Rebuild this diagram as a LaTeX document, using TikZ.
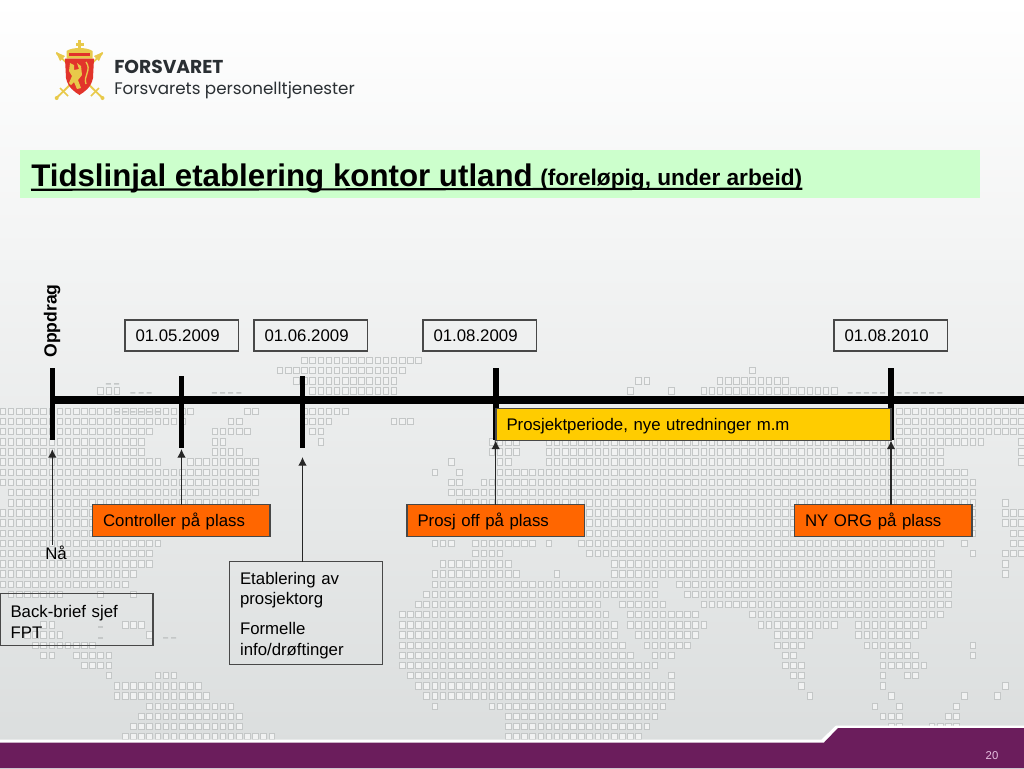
\documentclass[tikz,border=0pt]{standalone}
\usepackage{fontspec}
\setmainfont{Liberation Sans}
\newfontfamily\logofont{Poppins}
\usetikzlibrary{arrows.meta}
\definecolor{bgtop}{HTML}{FFFFFF}
\definecolor{bgbot}{HTML}{DADDDD}
\definecolor{titlegreen}{HTML}{CCFFCC}
\definecolor{orangebox}{HTML}{FF6600}
\definecolor{yellowbox}{HTML}{FFCC00}
\definecolor{purpleband}{HTML}{6B1D5C}
\definecolor{pagenum}{HTML}{E6BFE0}
\definecolor{dotline}{HTML}{C4C7C7}
\definecolor{dotfill}{HTML}{F1F2F2}
\definecolor{boxline}{HTML}{484848}
\definecolor{logodark}{HTML}{2A2F33}
\definecolor{gold}{HTML}{E8C94A}
\definecolor{shieldred}{HTML}{E2342B}
\tikzset{
  x=0.75pt,y=-0.75pt,
  mapdot/.style={draw=dotline,fill=dotfill,line width=0.5pt},
  mapdash/.style={fill=dotline},
  tickbar/.style={fill=black,inner sep=0pt,outer sep=0pt,minimum width=4.2pt,minimum height=54pt},
  basebox/.style={anchor=north west,inner xsep=7.9pt,inner ysep=0pt,outer sep=0pt,font=\fontsize{12.6}{15.5}\selectfont,align=left,line width=1pt},
  datebox/.style={basebox,draw=boxline,text width=69.3pt,minimum height=23.25pt,text height=11pt,text depth=2pt},
  orangenode/.style={basebox,draw=boxline,fill=orangebox,text width=117.3pt,minimum height=24pt,text height=11pt,text depth=2pt},
  notebox/.style={basebox,draw=boxline},
  arr/.style={-{Latex[length=6.5pt,width=6.5pt]},line width=1pt,draw=black!85},
}
\begin{document}
\begin{tikzpicture}
\useasboundingbox (0,0) rectangle (1024,768);
\shade[top color=bgtop,bottom color=bgbot] (0,0) rectangle (1024,768);
% dotted world map: row / from x / to x
\foreach \k/\a/\b in {
0/295/425,1/277/407,1/745/754,2/290/398,2/632/654,2/716/795,
3/93/120,3/305/398,3/622/630,3/667/677,3/699/839,
5/0/197,5/243/265,5/297/353,5/893/1024,
6/0/190,6/227/248,6/297/332,6/387/417,6/893/1024,
7/0/155,7/204/257,7/308/323,7/893/1024,
8/0/147,8/204/230,8/310/318,8/488/522,8/545/984,8/1012/1024,
9/0/147,9/204/248,9/488/519,9/545/949,9/1012/1024,
10/0/160,10/183/262,10/445/458,10/490/512,10/539/945,10/1012/1024,
11/0/265,11/428/442,11/453/467,11/490/970,
12/0/265,12/447/467,12/478/979,
13/7/265,13/448/982,
14/7/257,14/453/982,14/1002/1010,
15/0/257,15/453/982,15/1002/1024,
16/0/257,16/453/982,16/1002/1024,
17/0/257,17/453/979,17/1010/1024,
18/0/163,18/428/458,18/465/535,18/545/553,18/572/945,18/955/974,18/1010/1024,
19/0/155,19/465/508,19/580/940,19/968/975,19/1002/1024,
20/0/155,20/437/512,20/605/940,20/995/1003,
21/0/138,21/428/525,21/550/566,21/605/954,21/995/1001,
22/0/130,22/428/662,22/672/957,
23/7/70,23/90/98,23/125/131,23/420/662,23/682/957,
24/412/602,24/614/669,24/699/957,
25/397/612,25/622/704,25/744/949,
26/40/60,26/117/145,26/395/620,26/625/712,26/757/839,26/850/932,
27/20/63,27/142/152,27/395/620,27/632/704,27/767/819,27/852/924,
28/32/95,28/395/629,28/640/695,28/767/805,28/862/915,28/967/975,
29/40/62,29/73/113,29/395/635,29/647/679,29/777/797,29/877/924,29/966/975,
30/78/113,30/395/660,30/777/804,30/877/929,
31/100/113,31/150/177,31/402/650,31/665/677,31/785/804,31/877/889,31/900/924,
32/108/203,32/412/677,32/792/805,32/877/889,32/995/1001,
33/112/213,33/420/675,33/800/814,33/884/899,33/955/962,33/987/995,
34/142/238,34/430/438,34/488/669,34/867/879,34/892/902,34/952/962,
35/137/247,35/503/660,35/875/902,35/944/965,
36/127/248,36/503/652,36/884/902,36/925/965,
37/118/278,37/498/644}{
  \pgfmathtruncatemacro{\ia}{ceil(\a/8.15)}
  \pgfmathtruncatemacro{\ib}{max(\ia,floor((\b-5)/8.15))}
  \pgfmathsetmacro{\yy}{360.3+10.17*\k}
  \path[mapdot] foreach \i in {\ia,...,\ib} {
    ({8.15*\i},{\yy-3.2}) rectangle ++(5.6,6.4)
  };
}
% small dashes at the map's coast lines
\foreach \yy/\a/\b in {383/105/120,392/125/155,392/208/247,392/842/945,411/110/165,626/90/103,637/90/103,637/158/180}{
  \pgfmathtruncatemacro{\ia}{ceil(\a/8.15)}
  \pgfmathtruncatemacro{\ib}{max(\ia,floor((\b-3)/8.15))}
  \path[mapdash] foreach \i in {\ia,...,\ib} {
    ({8.15*\i},{\yy}) rectangle ++(5,1.6)
  };
}
% bottom band
\fill[white] (0,739.5) -- (821.5,739.5) -- (836,725.5) -- (1024,725.5) -- (1024,768) -- (0,768) -- cycle;
\fill[purpleband] (0,742.5) -- (824,742.5) -- (838,728) -- (1024,728) -- (1024,768) -- (0,768) -- cycle;
\node[text=pagenum,font=\fontsize{8.5}{10}\selectfont] (pg) at (992,756) {20};
% logo
\draw[gold,line width=1.4pt] (56.5,53) -- (102.5,98);
\draw[gold,line width=1.4pt] (102.5,53) -- (56.5,98);
\fill[gold] (56,52) -- (65,56) -- (60,61) -- cycle;
\fill[gold] (103,52) -- (94,56) -- (99,61) -- cycle;
\draw[gold,line width=1.2pt] (60,88) -- (68,96);
\draw[gold,line width=1.2pt] (99,88) -- (91,96);
\fill[gold] (56.7,98) circle (2);
\fill[gold] (102.5,98) circle (2);
\fill[gold] (78,40) rectangle (81,50);
\fill[gold] (75.5,43) rectangle (83.5,45.5);
\fill[gold] (66.5,51) .. controls (72,47) and (87,47) .. (92.5,51) -- (92.5,58.5) -- (66.5,58.5) -- cycle;
\fill[shieldred] (69,53) rectangle (90,56);
\fill[shieldred] (65,58.5) -- (94,58.5) -- (93,78) .. controls (91,88) and (84,92) .. (79.5,95) .. controls (75,92) and (68,88) .. (66,78) -- cycle;
\fill[gold] (70,63) -- (74,65) -- (74,70) -- (79,69) -- (77,63) -- (81,66) -- (82,75) -- (78,80) -- (81,88) -- (77,89) -- (74,82) -- (71,85) -- (69,83) -- (72,76) -- (69,71) -- cycle;
\draw[gold,line width=1pt] (86,62) .. controls (92,70) and (83,76) .. (86,84);
\node[anchor=base west,inner sep=0pt,text=logodark,font=\logofont\bfseries\fontsize{14}{16}\selectfont] (logoa) at (114,73.5) {FORSVARET};
\node[anchor=base west,inner sep=0pt,text=logodark,font=\logofont\fontsize{12.55}{14}\selectfont] (logob) at (114,94.5) {Forsvarets personelltjenester};
% title
\node[fill=titlegreen,anchor=north west,inner sep=0pt,minimum width=720pt,minimum height=36pt] (band) at (20,150) {};
\node[anchor=base west,inner sep=0pt,font=\bfseries\fontsize{23.45}{28}\selectfont] (ttl) at (31,186) {Tidslinjal etablering kontor utland};
\node[anchor=base west,inner sep=0pt,font=\bfseries\fontsize{17}{20}\selectfont] (sub) at (540,185.5) {(foreløpig, under arbeid)};
\draw[line width=1.6pt] ([yshift=-2.8pt]ttl.base west) -- ([yshift=-2.4pt]sub.base east);
% timeline
\node[rotate=90,inner sep=0pt,font=\bfseries\fontsize{13.2}{15}\selectfont] (opp) at (52,321) {Oppdrag};
\node[fill=black,anchor=west,inner sep=0pt,outer sep=0pt,minimum width=729pt,minimum height=6.4pt] (axis) at (52,400) {};
\node[tickbar] (t1) at (52.3,404.2) {};
\node[tickbar] (t2) at (181.5,412) {};
\node[tickbar] (t3) at (302.5,412) {};
\node[tickbar] (t4) at (495.7,404.2) {};
\node[tickbar] (t5) at (891,404.2) {};
\coordinate (a1) at (52.3,449);
\coordinate (a2) at (181.5,449);
\coordinate (a3) at (302.5,457);
\coordinate (a4) at (495.7,440.5);
\coordinate (a5) at (891,440.5);
% boxes
\node[datebox] (d1) at (125,320) {01.05.2009};
\node[datebox] (d2) at (254,320) {01.06.2009};
\node[datebox] (d3) at (423,320) {01.08.2009};
\node[datebox] (d4) at (834,320) {01.08.2010};
\node[basebox,draw=boxline,fill=yellowbox,text width=280.4pt,minimum height=24pt,text height=11pt,text depth=2pt] (proj) at (496,408.3) {Prosjektperiode, nye utredninger m.m};
\node[orangenode] (o1) at (92.5,504.5) {Controller på plass};
\node[orangenode] (o2) at (407,504.5) {Prosj off på plass};
\node[orangenode] (o3) at (794.5,504.5) {NY ORG på plass};
\node[notebox,text width=98.95pt,minimum height=39pt] (bb) at (0,593.5) {\rule{0pt}{12.4pt}Back-brief sjef\\FPT};
\node[notebox,text width=99.1pt,minimum height=77pt] (et) at (229.5,561.8) {\rule{0pt}{12.8pt}Etablering av\\prosjektorg\\[7pt]Formelle\\info/drøftinger};
\node[inner sep=0pt,anchor=base,font=\fontsize{12.6}{15}\selectfont] (na) at (56,559) {Nå};
% arrows
\draw[arr] (na.north -| a1) -- (a1);
\draw[arr] (o1.north -| a2) -- (a2);
\draw[arr] (et.north -| a3) -- (a3);
\draw[arr] (o2.north -| a4) -- (a4);
\draw[arr] (o3.north -| a5) -- (a5);
\end{tikzpicture}
\end{document}
